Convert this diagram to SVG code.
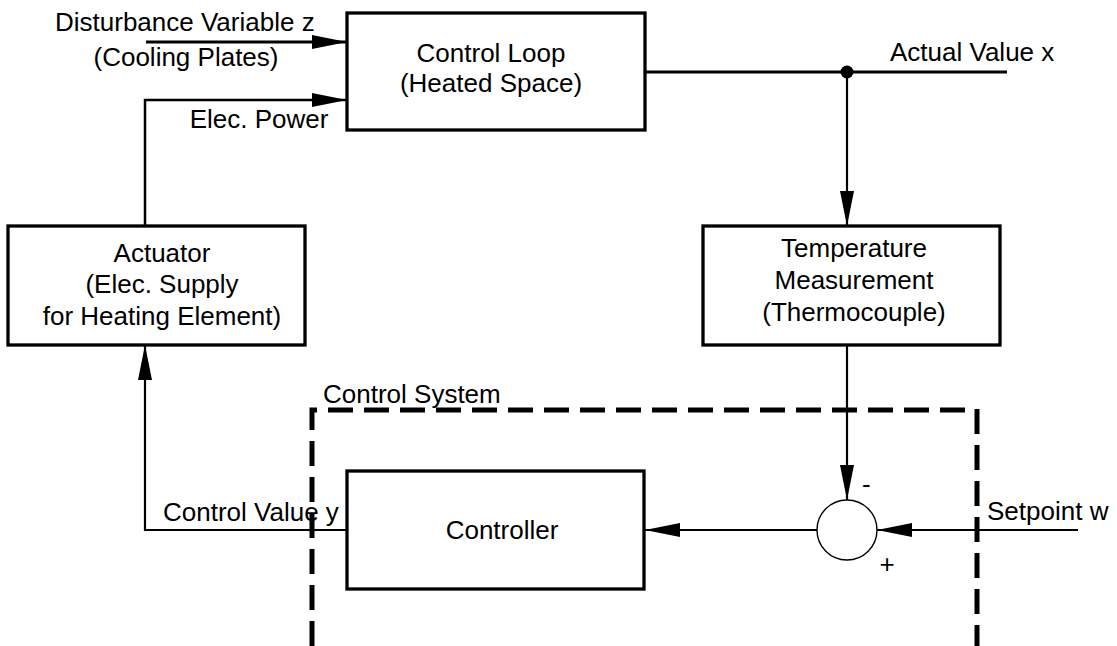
<svg xmlns="http://www.w3.org/2000/svg" width="1117" height="646" viewBox="0 0 1117 646">
<style>
text{font-family:"Liberation Sans",Arial,Helvetica,sans-serif;font-size:26px;fill:#000}
.box{fill:#fff;stroke:#000;stroke-width:3.3}
.c{text-anchor:middle}
.ln{fill:none;stroke:#000;stroke-width:2.2}
.lt{fill:none;stroke:#000;stroke-width:3}
.dash{fill:none;stroke:#000;stroke-width:5;stroke-dasharray:25 11}
</style>
<defs>
<marker id="ah" markerUnits="userSpaceOnUse" markerWidth="36" markerHeight="16" refX="35" refY="7" orient="auto" viewBox="0 0 36 14">
<path d="M0,0 L35,7 L0,14 Z" fill="#000"/>
</marker>
</defs>
<g id="connectors">
<line class="lt" x1="146" y1="42" x2="347" y2="42" marker-end="url(#ah)"/>
<polyline class="ln" points="145,226 145,100 347,100" marker-end="url(#ah)" style="stroke-width:2.5"/>
<line class="lt" x1="645" y1="72" x2="1007" y2="72"/>
<circle cx="847" cy="72" r="6.5" fill="#000"/>
<line class="ln" x1="847" y1="72" x2="847" y2="226" marker-end="url(#ah)"/>
<line class="ln" x1="847" y1="345" x2="847" y2="500" marker-end="url(#ah)"/>
<line class="ln" x1="1078" y1="530" x2="877" y2="530" marker-end="url(#ah)"/>
<line class="ln" x1="817" y1="530" x2="645" y2="530" marker-end="url(#ah)"/>
<polyline class="ln" points="347,530 145,530 145,345" marker-end="url(#ah)"/>
</g>
<g id="control-system">
<path class="dash" d="M312,646 V410 H967"/>
<path class="dash" d="M977,409 V646"/>
<text x="323" y="403">Control System</text>
</g>
<g id="control-loop">
<rect class="box" x="347" y="13" width="298" height="117"/>
<text class="c" x="491" y="62">Control Loop</text>
<text class="c" x="491" y="92">(Heated Space)</text>
</g>
<g id="actuator">
<rect class="box" x="8" y="226" width="297" height="119"/>
<text class="c" x="162" y="262">Actuator</text>
<text class="c" x="162" y="293">(Elec. Supply</text>
<text class="c" x="162" y="325">for Heating Element)</text>
</g>
<g id="temperature-measurement">
<rect class="box" x="703" y="226" width="297" height="119"/>
<text class="c" x="854" y="257">Temperature</text>
<text class="c" x="854" y="289">Measurement</text>
<text class="c" x="854" y="321">(Thermocouple)</text>
</g>
<g id="controller">
<rect class="box" x="347" y="471" width="297" height="118"/>
<text class="c" x="502" y="539">Controller</text>
</g>
<g id="summing-junction">
<circle cx="847" cy="530" r="30" fill="#fff" stroke="#000" stroke-width="1.4"/>
<text x="862" y="493">-</text>
<text class="c" x="887" y="573">+</text>
</g>
<g id="labels">
<text x="55" y="31">Disturbance Variable z</text>
<text class="c" x="186" y="66">(Cooling Plates)</text>
<text class="c" x="259" y="128">Elec. Power</text>
<text x="890" y="61">Actual Value x</text>
<text x="987" y="520">Setpoint w</text>
<text x="163" y="521">Control Value y</text>
</g>
</svg>
